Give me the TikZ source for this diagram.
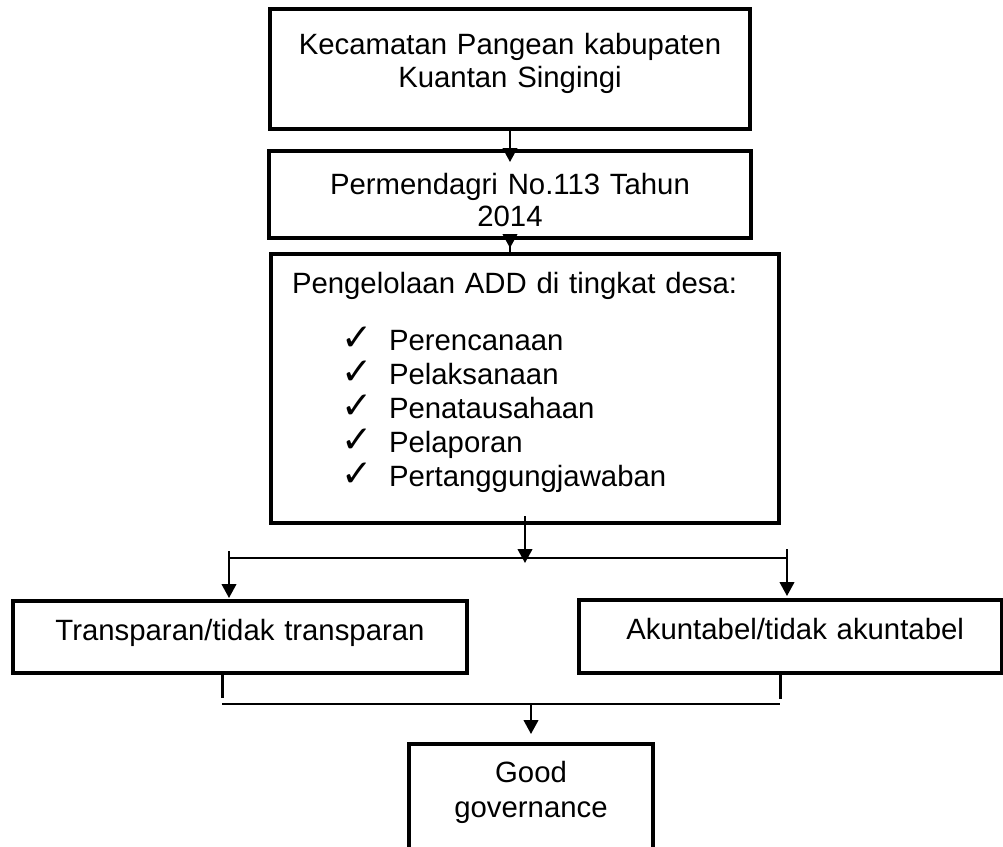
\documentclass[tikz,border=0pt]{standalone}
\usepackage{fontspec}
\setmainfont{Liberation Sans}
\newfontfamily\checkfont{DejaVu Sans}
\usepackage{tikz}
\usetikzlibrary{positioning,arrows.meta}
\tikzstyle{block} = [rectangle, draw, line width=3pt, inner sep=0pt, outer sep=0pt, align=center, font=\fontsize{22}{24.75}\selectfont]
\tikzstyle{line} = [draw, line width=1.5pt, -{Triangle[length=10.5pt,width=11pt]}]
\tikzstyle{link} = [draw, line width=1.25pt]
\tikzstyle{stub} = [draw, line width=2.25pt]
\newcommand{\chk}{{\checkfont\fontsize{28}{28}\selectfont ✓}}

\begin{document}
\begin{tikzpicture}[x=0.75pt, y=-0.75pt, node distance=16.5pt]
        \useasboundingbox (0,0) rectangle (1003,846);

        % Place nodes
        \node [block, text width=360pt, text height=34.1pt, text depth=55.9pt, anchor=north] (kec) at (510,9) {Kecamatan Pangean kabupaten\\Kuantan Singingi};
        \node [block, text width=361.5pt, text height=32.25pt, text depth=33pt, below=of kec, font=\fontsize{22}{24}\selectfont] (perm) {Permendagri No.113 Tahun\\2014};
        \node [block, text width=381pt, text height=29.25pt, text depth=172.5pt, below=12pt of perm, xshift=11.25pt, align=left, font=\fontsize{22}{25.5}\selectfont] (add) {%
            \hspace*{15.75pt}Pengelolaan ADD di tingkat desa:\\[17.25pt]
            \hspace*{52.5pt}\makebox[36pt][l]{\chk}Perencanaan\\
            \hspace*{52.5pt}\makebox[36pt][l]{\chk}Pelaksanaan\\
            \hspace*{52.5pt}\makebox[36pt][l]{\chk}Penatausahaan\\
            \hspace*{52.5pt}\makebox[36pt][l]{\chk}Pelaporan\\
            \hspace*{52.5pt}\makebox[36pt][l]{\chk}Pertanggungjawaban};
        \node [block, text width=340.5pt, text height=29.25pt, text depth=24.75pt, anchor=north] (trans) at (240,601) {Transparan/tidak transparan};
        \node [block, text width=317.25pt, text height=29.25pt, text depth=25.5pt, anchor=north] (akun) at (790.5,600) {\hspace*{7pt}Akuntabel/tidak akuntabel};
        \node [block, text width=183pt, text height=28.5pt, text depth=73.5pt, anchor=north, font=\fontsize{22}{26.25}\selectfont] (good) at (531,744) {Good\\governance};

        \coordinate (forkL) at (229,558);
        \coordinate (forkR) at (787,558);
        \coordinate (joinL) at (222,704);
        \coordinate (joinR) at (780,704);

        % Draw edges
        \path [line, shorten >=-8.25pt] (kec.south) -- (kec.south |- perm.north);
        \path [line, shorten <=-13.5pt, shorten >=4.5pt] (perm.south) -- (perm.south |- add.north);
        \path [line, shorten <=-5.25pt, shorten >=-3.75pt] (add.south) -- (add.south |- forkL);

        \path [link] (forkL) -- (forkR);
        \path [line, shorten <=-5.25pt, shorten >=2.25pt] (forkL) -- (forkL |- trans.north);
        \path [line, shorten <=-6.75pt, shorten >=3pt] (forkR) -- (forkR |- akun.north);

        \path [stub] (trans.south -| joinL) -- ([yshift=4.5pt]joinL);
        \path [stub] (akun.south -| joinR) -- ([yshift=3.75pt]joinR);
        \path [link] (joinL) -- (joinR);
        \path [line, shorten >=7.5pt] (good.north |- joinL) -- (good.north);
    \end{tikzpicture}
\end{document}
